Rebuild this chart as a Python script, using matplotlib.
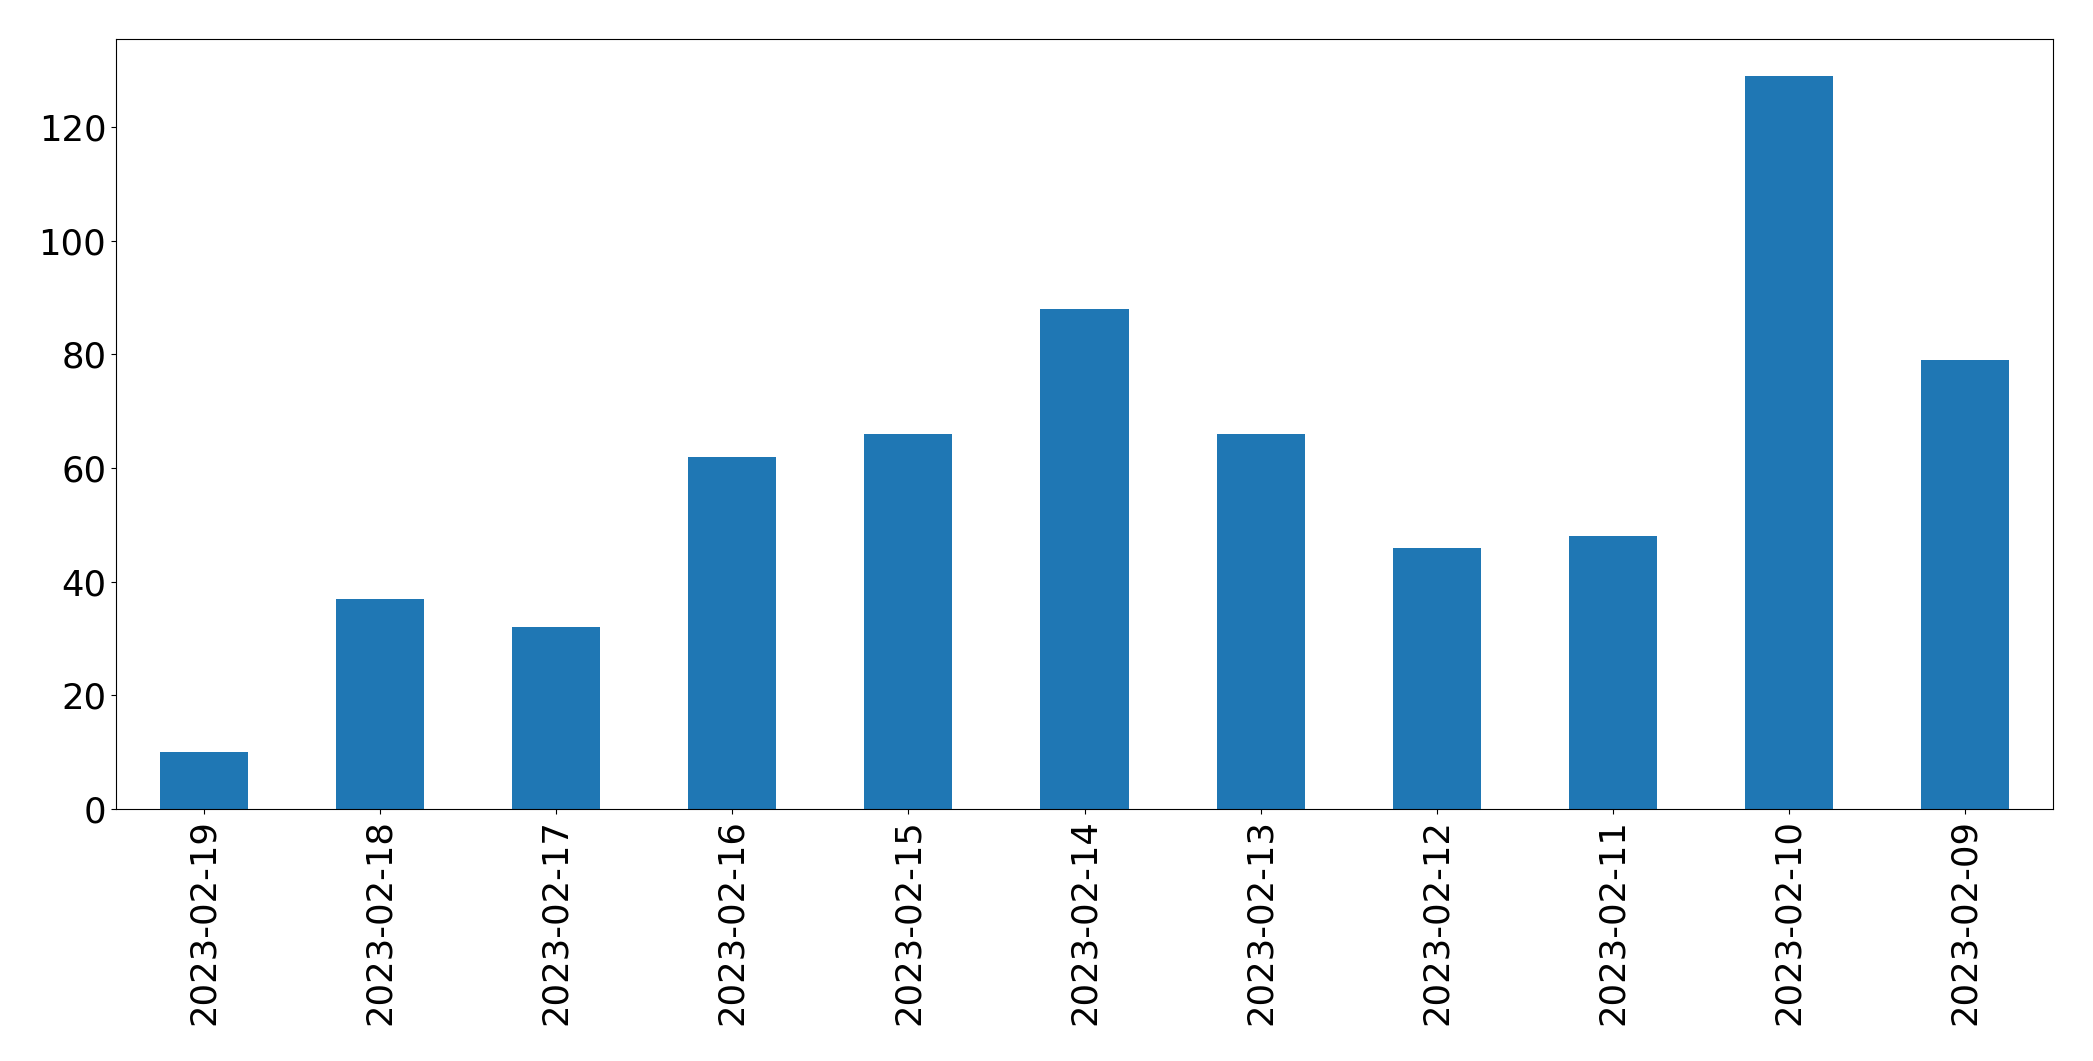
import matplotlib
matplotlib.use('Agg')
import matplotlib.pyplot as plt
import numpy as np

dates = ['2023-02-19', '2023-02-18', '2023-02-17', '2023-02-16', '2023-02-15',
         '2023-02-14', '2023-02-13', '2023-02-12', '2023-02-11', '2023-02-10',
         '2023-02-09']
counts = [10, 37, 32, 62, 66, 88, 66, 46, 48, 129, 79]

fig = plt.figure(figsize=(20.93, 10.61), dpi=100)
ax = fig.add_axes([116/2093, 1 - 809/1061, (2053 - 116)/2093, (809 - 39)/1061])

x = np.arange(len(dates))
ax.bar(x, counts, width=0.5, color='#1f77b4')
ax.set_xlim(-0.5, len(dates) - 0.5)
ax.set_ylim(0, max(counts) * 1.05)
ax.set_xticks(x)
ax.set_xticklabels(dates, rotation=90)
ax.tick_params(labelsize=25.5)

fig.savefig('out.png', dpi=100)
